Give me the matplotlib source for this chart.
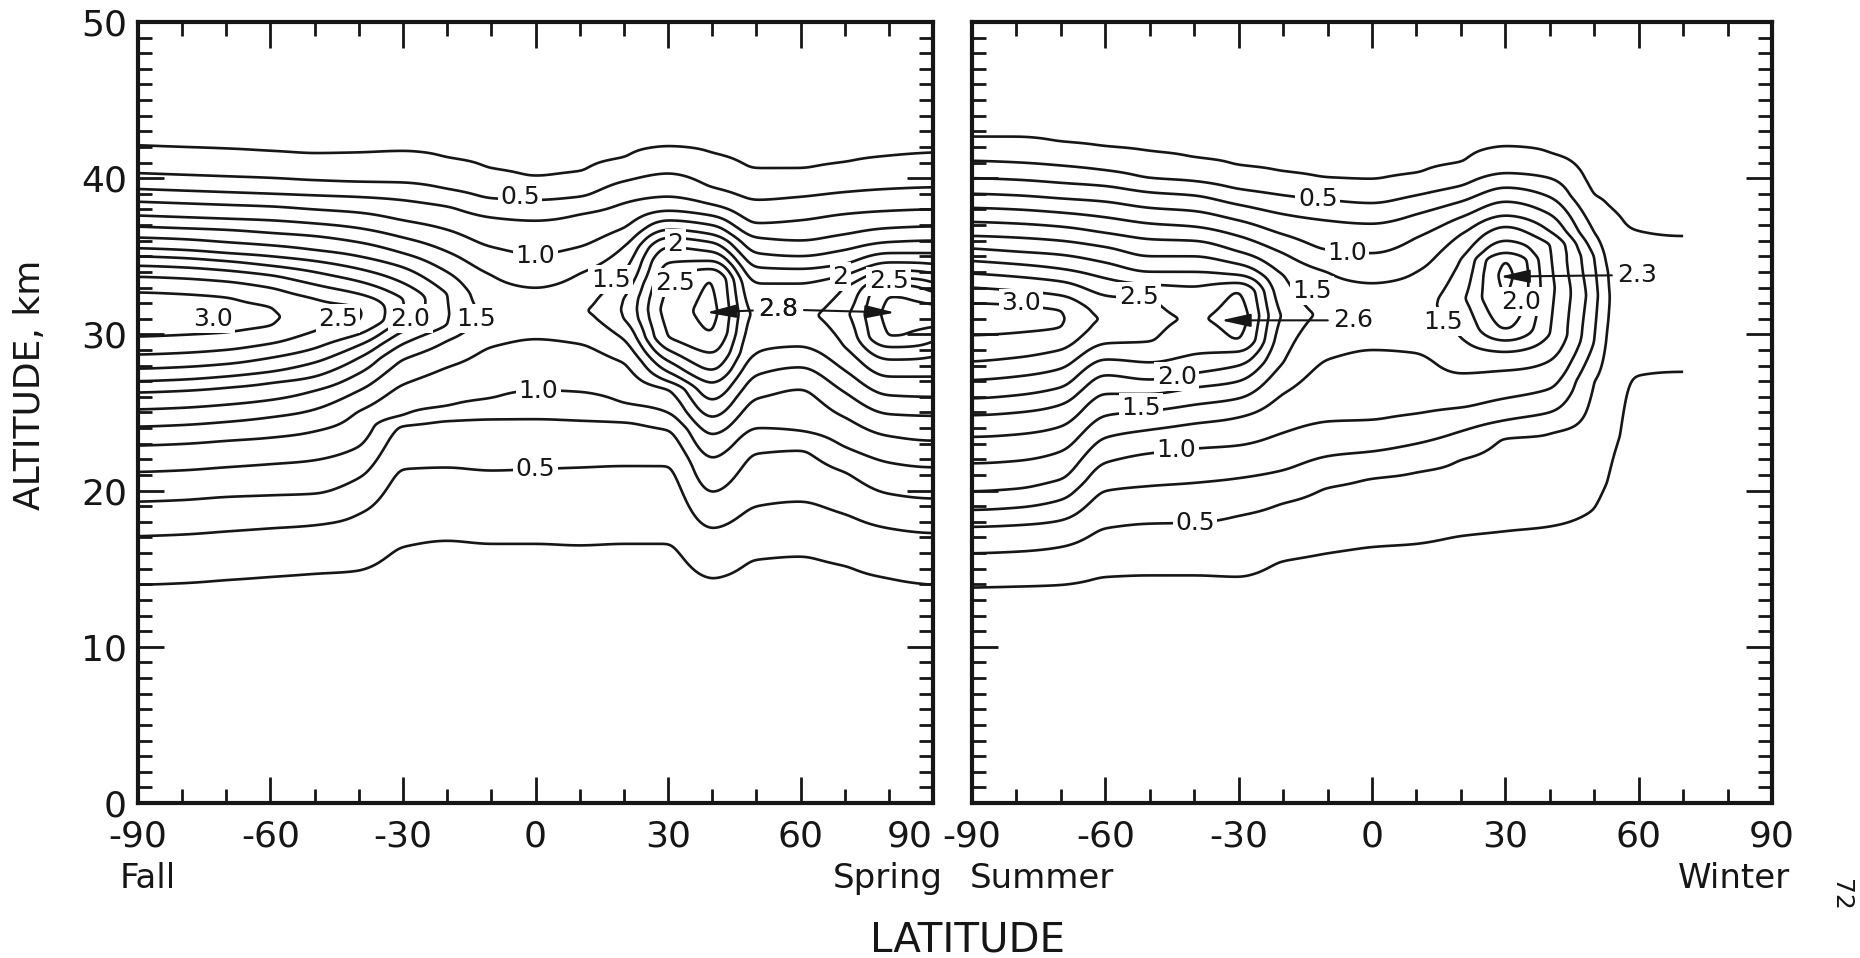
import numpy as np
import matplotlib
matplotlib.use("Agg")
import matplotlib.pyplot as plt
from matplotlib.ticker import MultipleLocator, FixedLocator

plt.rcParams['font.family'] = ['DejaVu Sans']

# Contour levels of the mixing ratio
LEVELS = [0.25, 0.5, 0.75, 1.0, 1.25, 1.5, 1.75, 2.0, 2.25, 2.5, 2.75, 3.0]

# ---- Fall / Spring panel -------------------------------------------------
# For every latitude column: heights (km) where each level is crossed below
# the maximum (LOWER), the height/value of the column maximum, and heights
# where the levels are crossed again above it (UPPER, starting at 0.25).
FS_LAT = [-90, -80, -70, -60, -50, -40, -30, -20, -10, 0, 10, 20, 30, 40, 50, 60, 70, 80, 90]
FS_LOWER = [
    [14.0, 17.1, 19.3, 21.2, 22.9, 24.1, 25.2, 26.3, 27.0, 27.8, 28.7, 29.85],
    [14.1, 17.2, 19.4, 21.3, 23.0, 24.2, 25.3, 26.4, 27.1, 27.9, 28.8, 29.95],
    [14.3, 17.4, 19.6, 21.5, 23.2, 24.4, 25.5, 26.6, 27.3, 28.1, 29.0, 30.1],
    [14.5, 17.6, 19.7, 21.7, 23.4, 24.7, 25.8, 26.9, 27.6, 28.5, 29.4, 30.5],
    [14.7, 17.8, 19.8, 21.95, 23.8, 25.2, 26.4, 27.3, 28.2, 29.1, 30.2],
    [14.9, 18.5, 20.8, 22.8, 25.1, 26.4, 27.5, 28.5, 29.3, 30.0, 30.8],
    [16.4, 21.4, 24.2, 24.8, 26.8, 28.4, 29.4, 30.2, 30.9],
    [16.8, 21.5, 24.5, 25.4, 27.9, 29.6, 30.6],
    [16.6, 21.3, 24.6, 25.9, 29.2],
    [16.6, 21.4, 24.6, 26.4, 29.7],
    [16.5, 21.5, 24.5, 26.3, 29.4],
    [16.6, 21.6, 24.4, 25.6, 28.2, 29.7, 31.0],
    [16.6, 21.6, 23.9, 25.0, 26.5, 27.0, 27.6, 28.3, 29.0, 29.8],
    [14.4, 17.6, 19.9, 22.1, 23.6, 24.7, 25.8, 26.9, 27.7, 28.8, 30.1],
    [15.6, 19.0, 22.4, 24.0, 25.9, 27.4, 28.8],
    [15.8, 19.3, 22.6, 23.8, 26.5, 27.9, 29.2],
    [15.2, 18.5, 21.2, 22.8, 24.7, 26.3, 27.7, 29.2],
    [14.4, 17.6, 19.8, 21.8, 23.5, 24.9, 26.1, 27.3, 28.4, 29.2, 29.8],
    [14.0, 17.3, 19.5, 21.5, 23.2, 24.8, 26.0, 27.3, 28.6, 29.6, 30.4],
]
FS_PEAK_ALT = [31.3, 31.3, 31.2, 31.1, 31.2, 31.3, 31.4, 31.3, 31.3, 31.3, 31.5, 31.6, 31.6, 31.4, 31.3, 31.2, 31.3, 31.3, 31.2]
FS_PEAK_VAL = [3.25, 3.2, 3.12, 3.03, 2.9, 2.77, 2.27, 1.77, 1.45, 1.38, 1.47, 1.78, 2.6, 2.8, 1.95, 1.95, 2.2, 2.8, 2.78]
FS_UPPER = [
    [42.05, 40.3, 39.3, 38.5, 37.6, 36.9, 36.2, 35.5, 35.0, 34.4, 33.7, 32.7],
    [41.95, 40.2, 39.2, 38.4, 37.5, 36.8, 36.1, 35.4, 34.9, 34.3, 33.6, 32.6],
    [41.85, 40.1, 39.1, 38.3, 37.4, 36.7, 35.9, 35.2, 34.7, 34.1, 33.4, 32.4],
    [41.7, 40.0, 39.0, 38.2, 37.3, 36.5, 35.7, 35.0, 34.4, 33.8, 33.0, 31.8],
    [41.55, 39.85, 38.9, 38.0, 37.1, 36.3, 35.4, 34.7, 34.0, 33.2, 32.3],
    [41.6, 39.75, 38.8, 37.8, 36.8, 35.9, 35.0, 34.2, 33.4, 32.6, 31.8],
    [41.7, 39.7, 38.6, 37.3, 36.2, 35.2, 34.3, 33.3, 32.3],
    [41.3, 39.3, 38.2, 36.7, 35.3, 34.0, 32.6],
    [40.6, 38.7, 37.5, 35.6, 33.8],
    [40.1, 38.6, 37.3, 35.1, 33.0],
    [40.4, 38.8, 37.7, 35.6, 33.9],
    [41.3, 39.8, 38.4, 36.8, 35.6, 34.0, 32.3],
    [42.0, 40.3, 38.8, 37.9, 37.3, 36.7, 36.2, 35.6, 34.6, 33.3],
    [41.6, 39.4, 38.3, 37.6, 37.0, 36.4, 35.9, 35.3, 34.7, 34.2, 33.6],
    [40.6, 38.6, 37.1, 36.2, 35.2, 34.3, 33.3],
    [40.6, 38.8, 37.3, 36.0, 35.0, 34.2, 33.3],
    [41.0, 39.1, 37.7, 36.4, 35.4, 34.5, 33.8, 33.0],
    [41.4, 39.3, 37.9, 36.8, 35.9, 35.2, 34.6, 34.1, 33.6, 33.2, 32.5],
    [41.6, 39.4, 38.0, 36.9, 36.0, 35.2, 34.5, 33.9, 33.3, 32.7, 32.0],
]
# Marked maxima (latitude, altitude) and their value
FS_MAX_LAT = [38.7, 81.4]
FS_MAX_ALT = [31.4, 31.4]
FS_MAX_VAL = 2.8

# ---- Summer / Winter panel -----------------------------------------------
SW_LAT = [-90, -80, -70, -60, -50, -40, -30, -20, -10, 0, 10, 20, 30, 40, 50, 53, 56, 59, 70]
SW_LOWER = [
    [13.84, 16.0, 17.7, 18.76, 19.94, 21.75, 23.45, 24.84, 25.9, 27.08, 28.25, 29.96],
    [13.9, 16.1, 17.8, 18.9, 20.1, 21.9, 23.6, 25.0, 26.1, 27.3, 28.5, 30.1],
    [14.0, 16.4, 18.1, 19.4, 20.7, 22.5, 24.1, 25.5, 26.6, 27.8, 29.0, 30.4],
    [14.5, 17.6, 20.0, 21.8, 23.4, 24.8, 26.2, 27.4, 28.4, 29.4],
    [14.6, 17.9, 20.3, 22.4, 23.9, 25.1, 26.2, 27.1, 28.2, 29.5],
    [14.6, 17.95, 20.5, 22.7, 24.3, 25.5, 26.6, 27.5, 28.7],
    [14.5, 18.4, 20.8, 22.9, 24.7, 25.9, 27.0, 28.0, 28.9, 29.6],
    [15.5, 19.2, 21.3, 23.7, 26.2, 28.2],
    [16.0, 20.2, 22.2, 24.4, 28.4],
    [16.4, 20.8, 22.5, 24.5, 29.0],
    [16.6, 21.2, 23.0, 24.9, 28.8],
    [17.1, 22.0, 23.8, 25.3, 27.5, 29.8],
    [17.4, 23.4, 24.5, 25.9, 27.7, 28.9, 29.6, 30.3, 32.4],
    [17.7, 23.7, 25.0, 26.5, 28.3, 30.0],
    [18.8, 27.0, 29.5],
    [20.5, 31.0],
    [23.5],
    [27.3],
    [27.6],
]
SW_PEAK_ALT = [31.0, 31.0, 31.0, 31.0, 31.0, 31.0, 31.2, 31.2, 31.3, 31.5, 31.8, 32.3, 33.8, 33.0, 32.5, 32.5, 32.0, 32.0, 32.0]
SW_PEAK_VAL = [3.2, 3.12, 3.02, 2.72, 2.6, 2.48, 2.6, 1.72, 1.45, 1.38, 1.42, 1.7, 2.3, 1.58, 0.85, 0.52, 0.42, 0.42, 0.42]
SW_UPPER = [
    [42.6, 41.1, 40.0, 39.0, 38.1, 37.2, 36.3, 35.5, 34.7, 33.9, 33.0, 32.0],
    [42.6, 41.0, 39.9, 38.9, 38.0, 37.1, 36.2, 35.3, 34.5, 33.7, 32.8, 31.9],
    [42.3, 40.8, 39.7, 38.7, 37.8, 36.9, 36.0, 35.1, 34.2, 33.4, 32.5, 31.6],
    [42.0, 40.5, 39.5, 38.5, 37.5, 36.5, 35.6, 34.6, 33.6, 32.5],
    [41.7, 40.0, 39.1, 38.1, 37.1, 36.1, 35.0, 34.0, 33.2, 32.3],
    [41.3, 39.8, 38.9, 37.9, 36.9, 36.0, 35.0, 34.0, 33.1],
    [40.8, 39.3, 38.3, 37.3, 36.3, 35.3, 34.5, 33.8, 33.3, 32.8],
    [40.4, 38.9, 37.7, 36.4, 35.2, 33.8],
    [40.0, 38.6, 37.3, 35.4, 34.0],
    [39.9, 38.4, 37.1, 35.2, 33.3],
    [40.3, 38.9, 37.7, 36.2, 34.0],
    [41.0, 39.5, 38.5, 37.5, 36.4, 34.8],
    [42.0, 40.3, 39.4, 38.5, 37.6, 36.9, 36.0, 35.2, 34.8],
    [41.6, 40.0, 38.8, 37.7, 36.6, 35.8],
    [38.9, 36.5, 35.0],
    [38.3, 34.0],
    [37.5],
    [36.7],
    [36.3],
]
SW_MAX_LAT = [-34.0, 28.8]
SW_MAX_ALT = [30.9, 33.7]
SW_MAX_VAL = [2.6, 2.3]

X_TICKS = [-90, -60, -30, 0, 30, 60, 90]
X_TICK_LABELS = ['-90', '-60', '-30', '0', '30', '60', '90']
Y_TICKS = [0, 10, 20, 30, 40, 50]

INK = '#161616'
D_LAT = 0.25
D_ALT = 0.05
EDGE_RAMP = 6.0   # km over which the field fades to zero outside the 0.25 lines


def column_profile(lower, peak_alt, peak_val, upper, alts):
    n = len(lower)
    levs = LEVELS[:n]
    za = [lower[0] - EDGE_RAMP] + list(lower) + [peak_alt] + list(upper[::-1]) + [upper[0] + EDGE_RAMP]
    zv = [0.0] + levs + [peak_val] + levs[::-1] + [0.0]
    return np.interp(alts, za, zv)


def pchip(x, y, xq):
    """Monotone piecewise cubic interpolation along axis 0."""
    x = np.asarray(x, float)
    y = np.asarray(y, float)
    h = np.diff(x)
    delta = np.diff(y, axis=0) / h[:, None]
    n = len(x)
    d = np.zeros_like(y)
    for k in range(1, n - 1):
        a, b = delta[k - 1], delta[k]
        w1 = 2 * h[k] + h[k - 1]
        w2 = h[k] + 2 * h[k - 1]
        with np.errstate(divide='ignore', invalid='ignore'):
            hm = (w1 + w2) / (w1 / a + w2 / b)
        d[k] = np.where(a * b > 0, hm, 0.0)

    def end_slope(h0, h1, d0, d1):
        s = ((2 * h0 + h1) * d0 - h0 * d1) / (h0 + h1)
        s = np.where(np.sign(s) != np.sign(d0), 0.0, s)
        cond = (np.sign(d0) != np.sign(d1)) & (np.abs(s) > 3 * np.abs(d0))
        return np.where(cond, 3 * d0, s)

    d[0] = end_slope(h[0], h[1], delta[0], delta[1])
    d[-1] = end_slope(h[-1], h[-2], delta[-1], delta[-2])
    idx = np.clip(np.searchsorted(x, xq, side='right') - 1, 0, n - 2)
    t = ((xq - x[idx]) / h[idx])[:, None]
    hh = h[idx][:, None]
    h00 = 2 * t**3 - 3 * t**2 + 1
    h10 = t**3 - 2 * t**2 + t
    h01 = -2 * t**3 + 3 * t**2
    h11 = t**3 - t**2
    return h00 * y[idx] + h10 * hh * d[idx] + h01 * y[idx + 1] + h11 * hh * d[idx + 1]


def gauss_smooth(z, axis, sigma):
    """Light Gaussian smoothing along one axis (sigma in samples)."""
    r = int(3 * sigma)
    k = np.exp(-0.5 * (np.arange(-r, r + 1) / sigma) ** 2)
    k /= k.sum()
    pad = [(0, 0)] * z.ndim
    pad[axis] = (r, r)
    zp = np.pad(z, pad, mode='edge')
    return np.apply_along_axis(lambda v: np.convolve(v, k, mode='valid'), axis, zp)


def build_field(lats, lower, peak_alt, peak_val, upper):
    alts = np.arange(6.0, 50.0001, D_ALT)
    cols = np.array([column_profile(lo, pa, pv, up, alts)
                     for lo, pa, pv, up in zip(lower, peak_alt, peak_val, upper)])
    lat_f = np.arange(lats[0], lats[-1] + 1e-6, D_LAT)
    z = pchip(lats, cols, lat_f)              # (nlat, nalt)
    z = gauss_smooth(z, 0, 0.9 / D_LAT)
    z = gauss_smooth(z, 1, 0.12 / D_ALT)
    return lat_f, alts, z.T


fig = plt.figure(figsize=(18.6, 9.58), dpi=100)
ax1 = fig.add_axes([138 / 1860, 1 - 803 / 958, 795 / 1860, 781 / 958])
ax2 = fig.add_axes([972 / 1860, 1 - 803 / 958, 800 / 1860, 781 / 958])

LINE_KW = dict(colors=INK, linewidths=1.9)
LABEL_KW = dict(fontsize=18, ha='center', va='center', color=INK, zorder=5,
                bbox=dict(boxstyle='square,pad=0.1', fc='white', ec='none'))
ARROW_KW = dict(arrowstyle='-|>,head_length=0.9,head_width=0.2', color=INK,
                lw=1.5, shrinkA=2, shrinkB=0, mutation_scale=20)

for ax in (ax1, ax2):
    ax.set_xlim(-90, 90)
    ax.set_ylim(0, 50)
    ax.xaxis.set_major_locator(FixedLocator(X_TICKS))
    ax.xaxis.set_minor_locator(MultipleLocator(10))
    ax.yaxis.set_major_locator(FixedLocator(Y_TICKS))
    ax.yaxis.set_minor_locator(MultipleLocator(1))
    ax.set_xticklabels(X_TICK_LABELS)
    ax.tick_params(which='both', direction='in', top=True, right=True, bottom=True, left=True,
                   width=2.0, color=INK, labelsize=26, labelcolor=INK)
    ax.tick_params(which='major', length=19)
    ax.tick_params(which='minor', length=10)
    ax.tick_params(axis='x', which='major', pad=12)
    ax.tick_params(axis='y', which='major', pad=8)
    for sp in ax.spines.values():
        sp.set_linewidth(3.0)
        sp.set_color(INK)

ax2.set_yticklabels([])
# the two panels touch: the last label of the left panel ends at its tick
ax1.get_xticklabels()[-1].set_horizontalalignment('right')

# Fall / Spring field
lat_f, alts, z = build_field(FS_LAT, FS_LOWER, FS_PEAK_ALT, FS_PEAK_VAL, FS_UPPER)
ax1.contour(lat_f, alts, z, levels=LEVELS, **LINE_KW)
for txt, x, y in [("0.5", -3.5, 38.8), ("1.0", 0.0, 35.0), ("3.0", -73, 31.0),
                  ("2.5", -44.7, 31.0), ("2.0", -28.4, 31.0), ("1.5", -13.5, 31.0),
                  ("1.0", 0.7, 26.4), ("0.5", 0.0, 21.4), ("1.5", 17.0, 33.5),
                  ("2", 31.6, 35.8), ("2.5", 31.5, 33.3), ("2", 69.0, 33.7), ("2.5", 80.0, 33.4)]:
    ax1.text(x, y, txt, **LABEL_KW)

for mx, my in zip(FS_MAX_LAT, FS_MAX_ALT):
    ax1.annotate(f"{FS_MAX_VAL:.1f}", xy=(mx, my), xytext=(55.0, 31.6), fontsize=18,
                 ha='center', va='center', color=INK, zorder=6, arrowprops=ARROW_KW)

# Summer / Winter field
lat_f, alts, z = build_field(SW_LAT, SW_LOWER, SW_PEAK_ALT, SW_PEAK_VAL, SW_UPPER)
ax2.contour(lat_f, alts, z, levels=LEVELS, **LINE_KW)
for txt, x, y in [("3.0", -79, 32.0), ("2.5", -52.5, 32.4), ("0.5", -12.2, 38.7),
                  ("1.0", -5.6, 35.2), ("1.5", -13.5, 32.8), ("2.0", -43.9, 27.3),
                  ("1.5", -52.0, 25.3), ("1.0", -44.0, 22.6), ("0.5", -39.8, 17.9),
                  ("1.5", 16.0, 30.8), ("2.0", 33.5, 32.1)]:
    ax2.text(x, y, txt, **LABEL_KW)

for mx, my, mv, lab in zip(SW_MAX_LAT, SW_MAX_ALT, SW_MAX_VAL, [(-4.2, 30.9), (59.7, 33.8)]):
    ax2.annotate(f"{mv:.1f}", xy=(mx, my), xytext=lab, fontsize=18, ha='center', va='center',
                 color=INK, zorder=6, arrowprops=ARROW_KW)

# Axis titles and season names
fig.text(30 / 1860, 1 - 385 / 958, "ALTITUDE, km", rotation=90, ha='center', va='center',
         fontsize=26, color=INK)
fig.text(968 / 1860, 1 - 940 / 958, "LATITUDE", ha='center', va='center', fontsize=29, color=INK)
fig.text(120 / 1860, 1 - 888 / 958, "Fall", ha='left', va='baseline', fontsize=24.5, color=INK)
fig.text(943 / 1860, 1 - 888 / 958, "Spring", ha='right', va='baseline', fontsize=24.5, color=INK)
fig.text(970 / 1860, 1 - 888 / 958, "Summer", ha='left', va='baseline', fontsize=24.5, color=INK)
fig.text(1790 / 1860, 1 - 888 / 958, "Winter", ha='right', va='baseline', fontsize=24.5, color=INK)
fig.text(1841 / 1860, 1 - 895 / 958, "72", rotation=-90, ha='center', va='center', fontsize=18,
         color=INK)

fig.savefig("out.png", dpi=100, facecolor='white')
